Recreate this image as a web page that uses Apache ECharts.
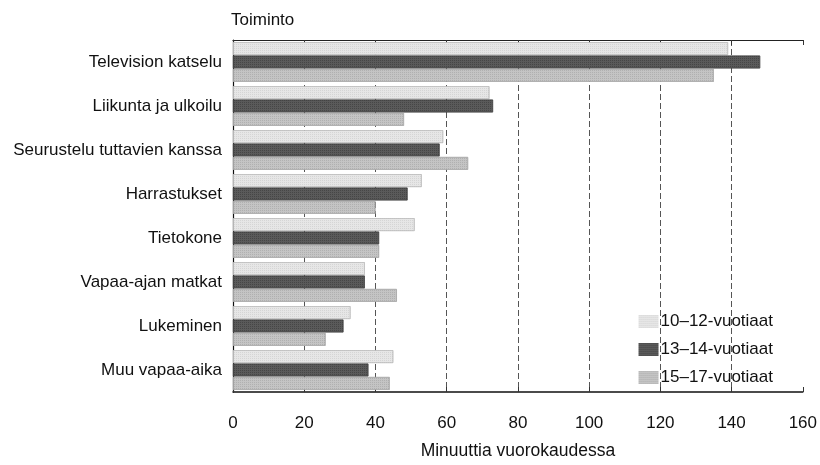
<!DOCTYPE html>
<html>
<head>
<meta charset="utf-8">
<script src="https://cdn.jsdelivr.net/npm/echarts@6/dist/echarts.min.js"></script>
<style>html,body{margin:0;padding:0;background:#fff}#c{width:820px;height:465px}</style>
</head>
<body>
<div id="c"></div>
<script>
const categories = ["Television katselu","Liikunta ja ulkoilu","Seurustelu tuttavien kanssa","Harrastukset","Tietokone","Vapaa-ajan matkat","Lukeminen","Muu vapaa-aika"];
const seriesNames = ["10–12-vuotiaat","13–14-vuotiaat","15–17-vuotiaat"];
const age10to12 = [139, 72, 59, 53, 51, 37, 33, 45];
const age13to14 = [148, 73, 58, 49, 41, 37, 31, 38];
const age15to17 = [135, 48, 66, 40, 41, 46, 26, 44];
const xTicks = [0, 20, 40, 60, 80, 100, 120, 140, 160];

const font = "'Liberation Sans', Arial, sans-serif";
const colors = ['#e6e6e6', '#5a5a5a', '#c4c4c4'];
const borders = ['#bcbcbc', '#474747', '#a8a8a8'];
const decalColors = ['rgba(0,0,0,0.07)', 'rgba(0,0,0,0.22)', 'rgba(0,0,0,0.1)'];
const data = [age10to12, age13to14, age15to17];

const chart = echarts.init(document.getElementById('c'), null, {renderer: 'canvas'});
chart.setOption({
  animation: false,
  backgroundColor: '#fff',
  textStyle: {fontFamily: font},
  grid: {left: 233, right: 17, top: 40, bottom: 71, containLabel: false},
  legend: {
    orient: 'vertical', right: 42, top: 308,
    itemWidth: 20, itemHeight: 13, itemGap: 11,
    icon: 'rect',
    itemStyle: {borderWidth: 0},
    textStyle: {fontFamily: font, fontSize: 17, lineHeight: 17, color: '#111', padding: [0,0,0,-3]},
    data: seriesNames
  },
  xAxis: [{
    type: 'value', min: xTicks[0], max: xTicks[xTicks.length-1], interval: 20,
    position: 'bottom',
    name: 'Minuuttia vuorokaudessa', nameLocation: 'middle', nameGap: 50,
    nameTextStyle: {fontFamily: font, fontSize: 17.5, color: '#111'},
    axisLine: {show: true, lineStyle: {color: '#111', width: 1.5}},
    axisTick: {show: true, inside: true, length: 5, lineStyle: {color: '#333'}},
    axisLabel: {fontFamily: font, fontSize: 17, color: '#111', margin: 23},
    splitLine: {show: true, showMinLine: false, showMaxLine: false, lineStyle: {type: [6, 3], color: '#555', width: 1}}
  }, {
    type: 'value', min: xTicks[0], max: xTicks[xTicks.length-1], interval: 20,
    position: 'top',
    axisLine: {show: true, lineStyle: {color: '#222', width: 1.2}},
    axisTick: {show: true, inside: true, length: 5, lineStyle: {color: '#333'}},
    axisLabel: {show: false},
    splitLine: {show: false}
  }],
  yAxis: {
    type: 'category', data: categories, inverse: true,
    name: 'Toiminto', nameLocation: 'start', nameGap: 11,
    nameTextStyle: {fontFamily: font, fontSize: 17, color: '#111', align: 'left', padding: [0,0,0,-2]},
    axisLine: {show: true, lineStyle: {color: '#111', width: 1.2}},
    axisTick: {show: false},
    axisLabel: {fontFamily: font, fontSize: 17, color: '#111', margin: 11}
  },
  series: seriesNames.map((n, i) => ({
    name: n, type: 'bar', data: data[i],
    barCategoryGap: '10%', barGap: '5%',
    itemStyle: {
      color: colors[i], borderColor: borders[i], borderWidth: 0.6,
      decal: {symbol: 'rect', symbolSize: 1, dashArrayX: [1, 1], dashArrayY: [1, 1], color: decalColors[i]}
    }
  }))
});
</script>
</body>
</html>
